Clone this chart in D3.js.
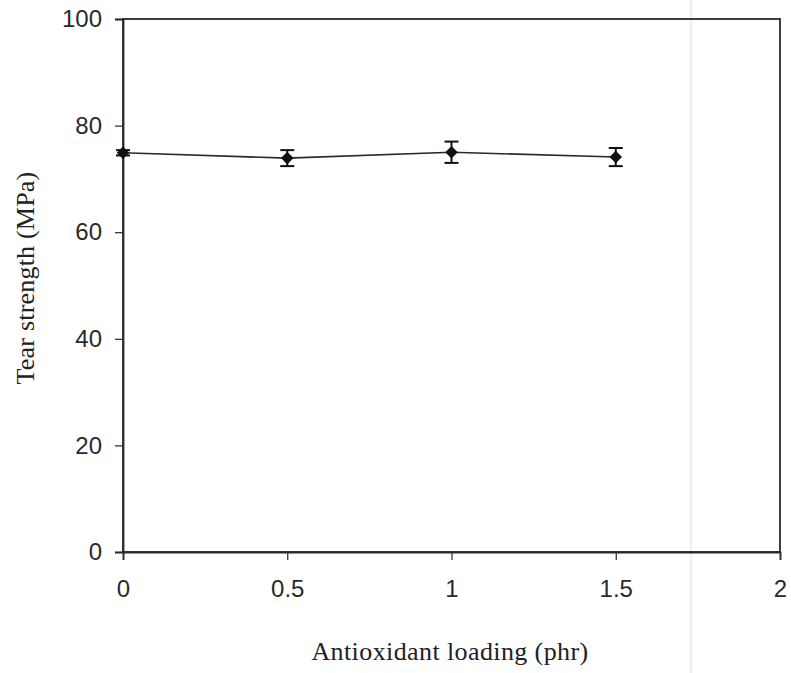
<!DOCTYPE html>
<html><head><meta charset="utf-8">
<script src="https://cdn.jsdelivr.net/npm/d3@7"></script>
<style>body{margin:0;background:#fff}</style>
</head><body>
<svg id="c" width="791" height="673"></svg>
<script>
const loading = [0, 0.5, 1, 1.5];
const tearStrength = [74.9, 73.9, 75.0, 74.1];
const errorBars = [0.5, 1.5, 2.0, 1.7];
const xTicks = [0, 0.5, 1, 1.5, 2];
const yTicks = [0, 20, 40, 60, 80, 100];

const svg = d3.select("#c");
const L = 123, R = 780, T = 19, B = 552;
const x = d3.scaleLinear().domain([0, 2]).range([L, R]);
const y = d3.scaleLinear().domain([0, 100]).range([B, T]);
const ink = "#2a2a2a";

// faint scan artifact line
svg.append("line").attr("x1", 691).attr("x2", 691).attr("y1", 0).attr("y2", 673)
  .attr("stroke", "#ece4f2").attr("stroke-width", 1.5);

// frame
svg.append("rect").attr("x", L).attr("y", T).attr("width", R - L).attr("height", B - T)
  .attr("fill", "none").attr("stroke", ink).attr("stroke-width", 1.8);

const xAxis = svg.append("g").attr("transform", `translate(0,${B})`)
  .call(d3.axisBottom(x).tickValues(xTicks).tickFormat(d3.format("")).tickSize(8).tickPadding(20));
const yAxis = svg.append("g").attr("transform", `translate(${L},0)`)
  .call(d3.axisLeft(y).tickValues(yTicks).tickSize(8).tickPadding(13));
[xAxis, yAxis].forEach(g => {
  g.select(".domain").attr("stroke", ink).attr("stroke-width", 1.8);
  g.selectAll(".tick line").attr("stroke", ink).attr("stroke-width", 1.2);
  g.selectAll("text").attr("font-family", "Liberation Sans, Arial, sans-serif")
    .attr("font-size", 24).attr("fill", "#2a2a2a");
});

const pts = loading.map((d, i) => ({x: d, y: tearStrength[i], e: errorBars[i]}));

svg.append("path").datum(pts)
  .attr("d", d3.line().x(d => x(d.x)).y(d => y(d.y)))
  .attr("fill", "none").attr("stroke", ink).attr("stroke-width", 1.6);

const eb = svg.append("g").attr("stroke", "#111").attr("stroke-width", 2);
pts.forEach(d => {
  eb.append("line").attr("x1", x(d.x)).attr("x2", x(d.x)).attr("y1", y(d.y - d.e)).attr("y2", y(d.y + d.e));
  [d.y - d.e, d.y + d.e].forEach(v => eb.append("line")
    .attr("x1", x(d.x) - 7).attr("x2", x(d.x) + 7).attr("y1", y(v)).attr("y2", y(v)));
});

svg.append("g").selectAll("path").data(pts).join("path")
  .attr("transform", d => `translate(${x(d.x)},${y(d.y)})`)
  .attr("d", d3.symbol(d3.symbolDiamond2, 100)())
  .attr("fill", "#111");

svg.append("text").attr("x", 450).attr("y", 660).attr("text-anchor", "middle")
  .attr("font-family", "Liberation Serif, Times New Roman, serif").attr("font-size", 26)
  .attr("letter-spacing", 0.4)
  .attr("fill", "#222").text("Antioxidant loading (phr)");
svg.append("text").attr("transform", `translate(34,278) rotate(-90)`)
  .attr("text-anchor", "middle")
  .attr("font-family", "Liberation Serif, Times New Roman, serif").attr("font-size", 26)
  .attr("letter-spacing", 0.2)
  .attr("fill", "#222").text("Tear strength (MPa)");
</script>
</body></html>
